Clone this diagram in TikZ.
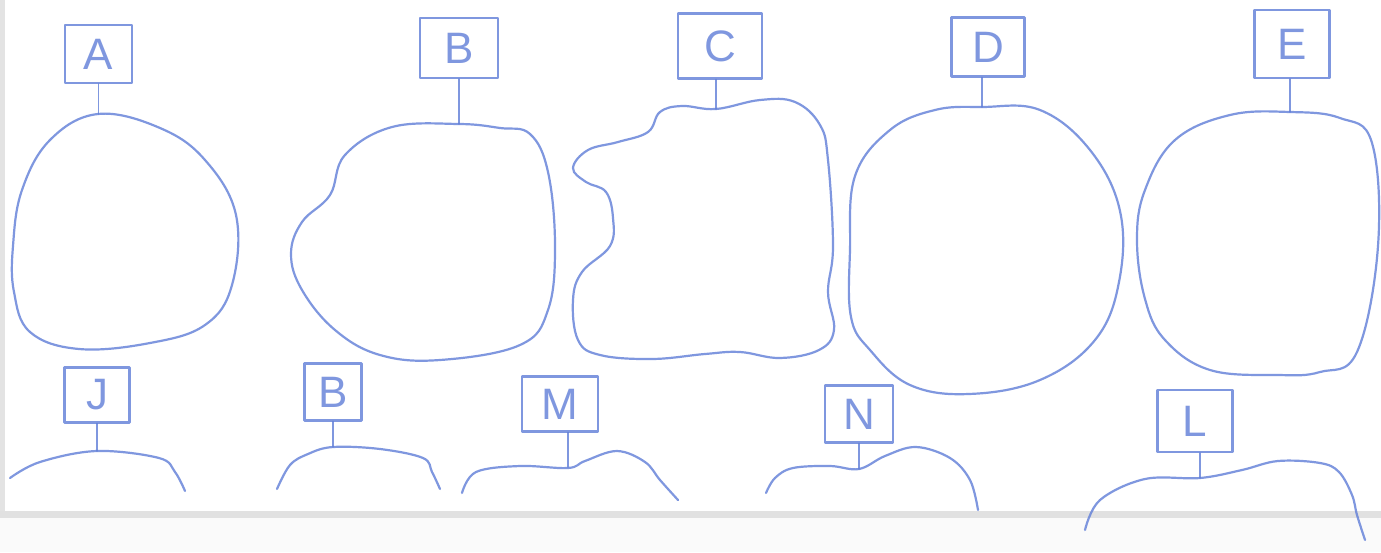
\documentclass[tikz,border=0pt]{standalone}
\usepackage{fontspec}
\setmainfont{Liberation Sans}
\definecolor{pen}{RGB}{96,126,216}
\definecolor{paperedge}{RGB}{205,205,205}
\tikzset{
  pen/.style={draw=pen, line width=1.1pt, line cap=round, line join=round, opacity=0.8},
  labelbox/.style={pen, rectangle, inner sep=0pt, text=pen, font=\fontsize{22}{22}\selectfont},
  stem/.style={pen, line width=0.9pt},
  blob/.style={pen, smooth cycle, tension=0.65},
  arcline/.style={pen, smooth, tension=0.6}
}
\begin{document}
\begin{tikzpicture}[x=0.5pt,y=-0.5pt]
\useasboundingbox (0,0) rectangle (1381,552);
\fill[white] (0,0) rectangle (1381,552);
% scanner edges
\fill[paperedge!55] (0,0) rectangle (5,512);
\fill[paperedge!60] (0,511) rectangle (1381,518);
\fill[paperedge!10] (0,518) rectangle (1381,552);

% ---------- top label boxes ----------
\node[labelbox, minimum width=33.5pt, minimum height=29pt] (A) at (98.5,54) {A};
\node[labelbox, minimum width=39pt, minimum height=30pt] (B) at (459,48) {B};
\node[labelbox, minimum width=42pt, minimum height=32.5pt] (C) at (720,46) {C};
\node[labelbox, minimum width=36.5pt, minimum height=29.5pt] (D) at (988,47) {D};
\node[labelbox, minimum width=37.5pt, minimum height=34pt] (E) at (1292,44) {E};

% ---------- bottom label boxes ----------
\node[labelbox, minimum width=32.5pt, minimum height=27.5pt] (J) at (97,395) {J};
\node[labelbox, minimum width=28.5pt, minimum height=28.5pt] (B2) at (333,392) {B};
\node[labelbox, minimum width=38pt, minimum height=27.5pt] (M) at (560,404) {M};
\node[labelbox, minimum width=34pt, minimum height=28.5pt] (N) at (859,414) {N};
\node[labelbox, minimum width=37.5pt, minimum height=31pt] (L) at (1195,421) {L};

% ---------- attachment points ----------
\coordinate (aTop) at (98.5,114);
\coordinate (bTop) at (459,124);
\coordinate (cTop) at (716,109);
\coordinate (dTop) at (982,107);
\coordinate (eTop) at (1290,112);
\coordinate (jTop) at (97,451);
\coordinate (b2Top) at (333,447);
\coordinate (mTop) at (568,467);
\coordinate (nTop) at (859,469);
\coordinate (lTop) at (1200,478);

% ---------- stems ----------
\draw[stem] (aTop |- A.south) -- (aTop);
\draw[stem] (bTop |- B.south) -- (bTop);
\draw[stem] (cTop |- C.south) -- (cTop);
\draw[stem] (dTop |- D.south) -- (dTop);
\draw[stem] (eTop |- E.south) -- (eTop);
\draw[stem] (jTop |- J.south) -- (jTop);
\draw[stem] (b2Top |- B2.south) -- (b2Top);
\draw[stem] (mTop |- M.south) -- (mTop);
\draw[stem] (nTop |- N.south) -- (nTop);
\draw[stem] (lTop |- L.south) -- (lTop);

% ---------- top blobs ----------
\draw[blob] plot coordinates {(98,114) (160,128) (205,160) (236,215) (232,285) (205,325) (150,343) (79,349) (30,332) (14,292) (13,246) (22,190) (50,140)};
\draw[blob] plot coordinates {(459,124) (500,128) (530,134) (548,172) (555,246) (548,310) (520,345) (440,360) (380,355) (335,330) (302,290) (291,254) (302,222) (330,195) (345,155) (392,127)};
\draw[blob] plot coordinates {(716,109) (760,100) (795,102) (820,125) (828,160) (833,246) (828,292) (834,330) (819,350) (780,358) (740,352) (705,354) (652,359) (600,355) (578,340) (573,300) (582,272) (610,246) (613,218) (606,192) (586,182) (573,168) (588,150) (618,142) (648,132) (660,112) (682,106)};
\draw[blob] plot coordinates {(982,107) (1040,110) (1090,150) (1120,211) (1119,282) (1095,340) (1040,380) (969,394) (910,385) (870,350) (851,317) (850,250) (855,176) (890,130) (935,110)};
\draw[blob] plot coordinates {(1290,112) (1340,118) (1372,143) (1378,246) (1357,352) (1320,372) (1278,375) (1210,370) (1165,340) (1145,299) (1137,240) (1145,190) (1175,140) (1230,115)};

% ---------- bottom partial blobs ----------
\draw[arcline] plot coordinates {(10,478) (40,462) (97,451) (159,458) (175,472) (185,491)};
\draw[arcline] plot coordinates {(277,489) (290,465) (308,454) (333,447) (380,449) (423,458) (432,472) (440,489)};
\draw[arcline] plot coordinates {(462,493) (476,472) (520,466) (568,468) (585,461) (617,451) (645,462) (660,480) (678,500)};
\draw[arcline] plot coordinates {(766,493) (775,478) (793,468) (830,466) (859,469) (885,456) (916,447) (950,458) (970,480) (978,510)};
\draw[arcline] plot coordinates {(1085,530) (1100,500) (1145,479) (1200,478) (1242,470) (1278,461) (1320,463) (1339,472) (1352,495) (1357,515) (1365,540)};
\end{tikzpicture}
\end{document}
